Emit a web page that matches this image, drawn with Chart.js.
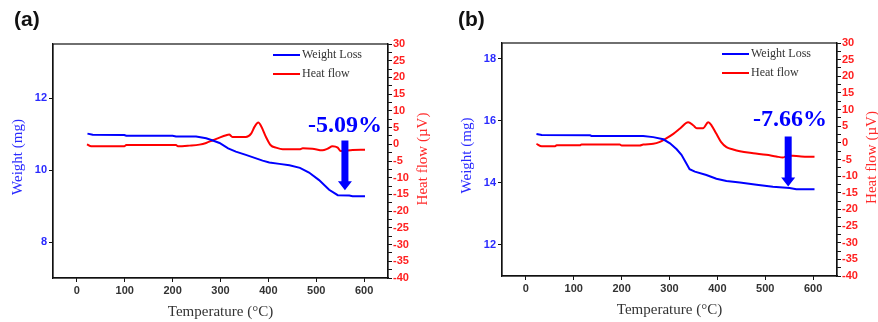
<!DOCTYPE html>
<html>
<head>
<meta charset="utf-8">
<script src="https://cdn.jsdelivr.net/npm/chart.js@4.4.1/dist/chart.umd.min.js"></script>
<style>
  body { margin: 0; background: #fff; }
  #wrap { position: relative; width: 878px; height: 322px; }
  canvas { position: absolute; top: 0; }
</style>
</head>
<body>
<div id="wrap">
  <canvas id="panel-a" width="439" height="322" style="left:0"></canvas>
  <canvas id="panel-b" width="439" height="322" style="left:439px"></canvas>
</div>
<script>
var tempTicks = [0, 100, 200, 300, 400, 500, 600];
var heatTicks = [-40, -35, -30, -25, -20, -15, -10, -5, 0, 5, 10, 15, 20, 25, 30];

// panel (a)
var weightTempA = [22, 33, 99, 103, 200, 207, 249, 270, 284, 298, 316, 332, 353, 388, 402, 423, 444, 466, 485, 506, 527, 545, 569, 576, 602];
var weightA = [11.01, 10.98, 10.97, 10.95, 10.95, 10.93, 10.93, 10.88, 10.82, 10.75, 10.60, 10.51, 10.42, 10.26, 10.21, 10.17, 10.13, 10.06, 9.93, 9.72, 9.45, 9.30, 9.29, 9.27, 9.27];
var heatTempA = [21, 30, 99, 103, 207, 211, 235, 256, 270, 284, 298, 312, 318, 325, 353, 364, 371, 379, 385, 395, 405, 416, 430, 465, 472, 492, 513, 524, 534, 545, 551, 576, 602];
var heatA = [0.0, -0.6, -0.6, -0.2, -0.2, -0.6, -0.4, -0.1, 0.4, 1.2, 2.0, 2.7, 2.9, 2.2, 2.2, 3.2, 5.2, 6.5, 5.4, 2.2, -0.3, -1.0, -1.5, -1.5, -1.2, -1.3, -1.8, -1.3, -0.6, -1.0, -2.0, -1.7, -1.6];
var weightTicksA = [8, 10, 12];

// panel (b)
var weightTempB = [22, 33, 134, 137, 245, 266, 287, 301, 315, 325, 335, 342, 353, 377, 398, 419, 447, 482, 516, 551, 565, 603];
var weightB = [15.57, 15.54, 15.53, 15.51, 15.51, 15.47, 15.40, 15.27, 15.08, 14.90, 14.63, 14.44, 14.36, 14.25, 14.13, 14.06, 14.01, 13.94, 13.87, 13.83, 13.79, 13.79];
var heatTempB = [22, 33, 61, 64, 113, 116, 196, 200, 238, 245, 266, 280, 294, 308, 322, 339, 350, 357, 370, 381, 388, 398, 408, 419, 433, 447, 475, 502, 523, 537, 548, 558, 575, 603];
var heatB = [-0.3, -1.0, -1.0, -0.7, -0.7, -0.5, -0.5, -0.8, -0.8, -0.5, -0.3, 0.3, 1.4, 2.7, 4.3, 6.2, 5.2, 4.4, 4.4, 6.2, 5.2, 2.7, 0.2, -1.3, -2.0, -2.5, -3.1, -3.6, -4.1, -4.4, -3.8, -3.9, -4.1, -4.2];
var weightTicksB = [12, 14, 16, 18];

var blue = '#0000ff';
var red = '#ff0000';

function toPoints(xs, ys) {
  return xs.map(function (x, i) { return { x: x, y: ys[i] }; });
}

// draws the box, legend, axis titles, panel letter and the loss arrow
var panelDeco = {
  id: 'panelDeco',
  afterDraw: function (chart, args, opts) {
    var ctx = chart.ctx;
    var area = chart.chartArea;
    var xs = chart.scales.x;
    var ys = chart.scales.y;
    ctx.save();

    // frame
    ctx.strokeStyle = '#111';
    ctx.lineWidth = 1.2;
    ctx.strokeRect(area.left, area.top, area.right - area.left, area.bottom - area.top);

    // legend inside the plot
    ctx.font = '12px "Liberation Serif", serif';
    ctx.textBaseline = 'middle';
    ctx.textAlign = 'left';
    chart.data.datasets.forEach(function (ds, i) {
      var y = area.top + 11 + i * 19;
      var x0 = area.right - 115;
      ctx.strokeStyle = ds.borderColor;
      ctx.lineWidth = 2;
      ctx.beginPath();
      ctx.moveTo(x0, y);
      ctx.lineTo(x0 + 27, y);
      ctx.stroke();
      ctx.fillStyle = '#333';
      ctx.fillText(ds.label, x0 + 29, y);
    });

    // panel letter
    ctx.fillStyle = '#111';
    ctx.font = 'bold 21px "Liberation Sans", Arial, sans-serif';
    ctx.fillText(opts.letter, opts.letterX, 20);

    // axis titles
    ctx.font = '15px "Liberation Serif", serif';
    ctx.textAlign = 'center';
    ctx.fillStyle = '#333';
    ctx.fillText('Temperature (\u00b0C)', (area.left + area.right) / 2, area.bottom + 34);

    ctx.save();
    ctx.translate(area.left - 35, (area.top + area.bottom) / 2 - 4);
    ctx.rotate(-Math.PI / 2);
    ctx.fillStyle = '#2a2aff';
    ctx.fillText('Weight (mg)', 0, 0);
    ctx.restore();

    ctx.save();
    ctx.translate(area.right + 35, (area.top + area.bottom) / 2 - 2);
    ctx.rotate(-Math.PI / 2);
    ctx.fillStyle = '#ff2a2a';
    ctx.fillText('Heat flow (\u00b5V)', 0, 0);
    ctx.restore();

    // loss label and arrow, placed in data units
    var ax = xs.getPixelForValue(opts.arrowT);
    var aTop = ys.getPixelForValue(opts.arrowFrom);
    var aTip = ys.getPixelForValue(opts.arrowTo);
    ctx.fillStyle = blue;
    ctx.font = 'bold 24px "Liberation Serif", serif';
    ctx.fillText(opts.loss, xs.getPixelForValue(opts.labelT), ys.getPixelForValue(opts.labelW));
    ctx.beginPath();
    ctx.moveTo(ax - 3.5, aTop);
    ctx.lineTo(ax + 3.5, aTop);
    ctx.lineTo(ax + 3.5, aTip - 9);
    ctx.lineTo(ax + 7, aTip - 9);
    ctx.lineTo(ax, aTip);
    ctx.lineTo(ax - 7, aTip - 9);
    ctx.lineTo(ax - 3.5, aTip - 9);
    ctx.closePath();
    ctx.fill();

    ctx.restore();
  }
};

function makePanel(id, p) {
  var ctx = document.getElementById(id);
  return new Chart(ctx, {
    type: 'line',
    data: {
      datasets: [{
        label: 'Weight Loss',
        data: toPoints(p.weightTemp, p.weight),
        borderColor: blue,
        borderWidth: 2,
        pointRadius: 0,
        tension: 0,
        yAxisID: 'y'
      }, {
        label: 'Heat flow',
        data: toPoints(p.heatTemp, p.heat),
        borderColor: red,
        borderWidth: 2,
        pointRadius: 0,
        cubicInterpolationMode: 'monotone',
        yAxisID: 'y1'
      }]
    },
    options: {
      responsive: false,
      animation: false,
      devicePixelRatio: 1,
      layout: { padding: { top: p.top, left: 0, right: 0, bottom: 0 } },
      plugins: {
        legend: { display: false },
        tooltip: { enabled: false },
        panelDeco: p.deco
      },
      scales: {
        x: {
          type: 'linear',
          min: -50,
          max: 650,
          afterBuildTicks: function (s) { s.ticks = tempTicks.map(function (v) { return { value: v }; }); },
          afterFit: function (s) { s.height = p.bottom; },
          grid: { drawOnChartArea: false, tickLength: 4, color: '#111' },
          border: { color: '#111', width: 1.2 },
          ticks: { autoSkip: false, maxRotation: 0, padding: 2, color: '#333', font: { family: '"Liberation Sans", Arial', size: 11, weight: 'bold' } }
        },
        y: {
          position: 'left',
          min: p.wMin,
          max: p.wMax,
          afterBuildTicks: function (s) { s.ticks = p.weightTicks.map(function (v) { return { value: v }; }); },
          afterFit: function (s) { s.width = p.left; },
          grid: { drawOnChartArea: false, tickLength: 4, color: '#111' },
          border: { color: '#111', width: 1.2 },
          ticks: { autoSkip: false, padding: 2, color: '#2a2aff', font: { family: '"Liberation Sans", Arial', size: 11, weight: 'bold' } }
        },
        y1: {
          position: 'right',
          min: -40,
          max: 30,
          afterBuildTicks: function (s) {
            var t = [];
            heatTicks.forEach(function (v, i) {
              t.push({ value: v });
              if (i < heatTicks.length - 1) t.push({ value: v + 2.5 });
            });
            s.ticks = t;
          },
          afterFit: function (s) { s.width = p.right; },
          grid: { drawOnChartArea: false, tickLength: 4, color: '#111' },
          border: { color: '#111', width: 1.2 },
          ticks: {
            autoSkip: false,
            padding: 1,
            color: '#ff2020',
            font: { family: '"Liberation Sans", Arial', size: 11, weight: 'bold' },
            callback: function (v) { return heatTicks.indexOf(v) >= 0 ? String(v) : ''; }
          }
        }
      }
    },
    plugins: [panelDeco]
  });
}

makePanel('panel-a', {
  weightTemp: weightTempA, weight: weightA, heatTemp: heatTempA, heat: heatA,
  weightTicks: weightTicksA, wMin: 7, wMax: 13.5,
  top: 44, bottom: 44, left: 53, right: 51,
  deco: { letter: '(a)', letterX: 14, loss: '-5.09%', labelT: 560, labelW: 11.24, arrowT: 560, arrowFrom: 10.82, arrowTo: 9.44 }
});

makePanel('panel-b', {
  weightTemp: weightTempB, weight: weightB, heatTemp: heatTempB, heat: heatB,
  weightTicks: weightTicksB, wMin: 11, wMax: 18.5,
  top: 43, bottom: 46, left: 63, right: 41,
  deco: { letter: '(b)', letterX: 19, loss: '-7.66%', labelT: 552, labelW: 16.03, arrowT: 548, arrowFrom: 15.49, arrowTo: 13.88 }
});
</script>
</body>
</html>
